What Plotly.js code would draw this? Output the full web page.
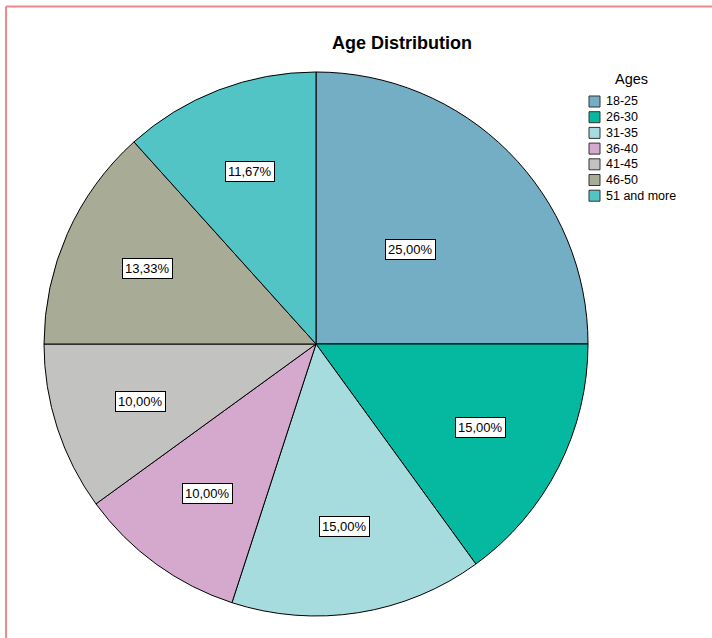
<!DOCTYPE html>
<html>
<head>
<meta charset="utf-8">
<script src="https://cdn.plot.ly/plotly-3.0.1.min.js"></script>
<style>
  html, body { margin: 0; padding: 0; background: #ffffff; }
  #chart { width: 712px; height: 638px; }
</style>
</head>
<body>
<div id="chart"></div>
<script>
// Age groups and their share of respondents (percent)
const ageGroups = ['18-25', '26-30', '31-35', '36-40', '41-45', '46-50', '51 and more'];
const sharePercent = [25.00, 15.00, 15.00, 10.00, 10.00, 13.33, 11.67];
const sliceColors = ['#74AEC4', '#05B8A0', '#A7DCDF', '#D4A9CD', '#C2C3C1', '#A8AB95', '#52C4C6'];
const legendTitle = 'Ages';
const chartTitle = 'Age Distribution';

// Figure geometry (pixels)
const W = 712, H = 638;
const pieBox = { left: 44, right: 588, top: 72, bottom: 616 };
const px = x => x / W;          // pixel -> paper x
const py = y => 1 - y / H;      // pixel -> paper y

const cx = (pieBox.left + pieBox.right) / 2;
const cy = (pieBox.top + pieBox.bottom) / 2;
const R = Math.min(pieBox.right - pieBox.left, pieBox.bottom - pieBox.top) / 2;

const fmt = v => v.toFixed(2).replace('.', ',') + '%';
const total = sharePercent.reduce((a, b) => a + b, 0);

// Boxed value labels placed along each slice's middle angle (clockwise from 12 o'clock)
const annotations = [];
let cum = 0;
sharePercent.forEach((v, i) => {
  const mid = (cum + v / 2) / total * 2 * Math.PI;
  cum += v;
  const rFrac = v / total >= 0.2 ? 0.49 : 0.68;
  const lx = cx + rFrac * R * Math.sin(mid);
  const ly = cy - rFrac * R * Math.cos(mid);
  annotations.push({
    text: fmt(v), x: px(lx), y: py(ly), xref: 'paper', yref: 'paper',
    xanchor: 'center', yanchor: 'middle', showarrow: false,
    bgcolor: '#ffffff', bordercolor: '#000000', borderwidth: 1, borderpad: 2,
    font: { family: 'Liberation Sans, Arial, sans-serif', size: 13, color: '#000000' }
  });
});

// Legend block: title, swatches and labels
const legendX = 589, swatch = 11, rowTop = 101.5, rowStep = 15.7;
annotations.push({
  text: legendTitle, x: px(631), y: py(79), xref: 'paper', yref: 'paper',
  xanchor: 'center', yanchor: 'middle', showarrow: false,
  font: { family: 'Liberation Sans, Arial, sans-serif', size: 14.5, color: '#000000' }
});
const shapes = [];
ageGroups.forEach((g, i) => {
  const yc = rowTop + i * rowStep;
  shapes.push({
    type: 'rect', xref: 'paper', yref: 'paper',
    x0: px(legendX), x1: px(legendX + swatch), y0: py(yc - swatch / 2), y1: py(yc + swatch / 2),
    fillcolor: sliceColors[i], line: { color: '#333333', width: 1 }
  });
  annotations.push({
    text: g, x: px(legendX + swatch + 4), y: py(yc), xref: 'paper', yref: 'paper',
    xanchor: 'left', yanchor: 'middle', showarrow: false,
    font: { family: 'Liberation Sans, Arial, sans-serif', size: 12.5, color: '#000000' }
  });
});

// Thin frame along the top and left edges
const frame = { color: '#F08A8A', width: 2 };
shapes.push({ type: 'line', xref: 'paper', yref: 'paper', x0: px(6), x1: px(W), y0: py(6.5), y1: py(6.5), line: frame });
shapes.push({ type: 'line', xref: 'paper', yref: 'paper', x0: px(6), x1: px(6), y0: py(6.5), y1: py(H), line: frame });

const trace = {
  type: 'pie',
  labels: ageGroups,
  values: sharePercent,
  sort: false,
  direction: 'clockwise',
  rotation: 0,
  textinfo: 'none',
  hoverinfo: 'label+percent',
  showlegend: false,
  marker: { colors: sliceColors, line: { color: '#000000', width: 1 } },
  domain: { x: [px(pieBox.left), px(pieBox.right)], y: [py(pieBox.bottom), py(pieBox.top)] }
};

const layout = {
  width: W, height: H,
  margin: { l: 0, r: 0, t: 0, b: 0 },
  paper_bgcolor: '#ffffff',
  title: {
    text: '<b>' + chartTitle + '</b>',
    x: px(402), xanchor: 'center', y: py(43), yanchor: 'middle',
    font: { family: 'Liberation Sans, Arial, sans-serif', size: 18, color: '#000000' }
  },
  annotations: annotations,
  shapes: shapes
};

Plotly.newPlot('chart', [trace], layout, { displayModeBar: false, staticPlot: true });
</script>
</body>
</html>
